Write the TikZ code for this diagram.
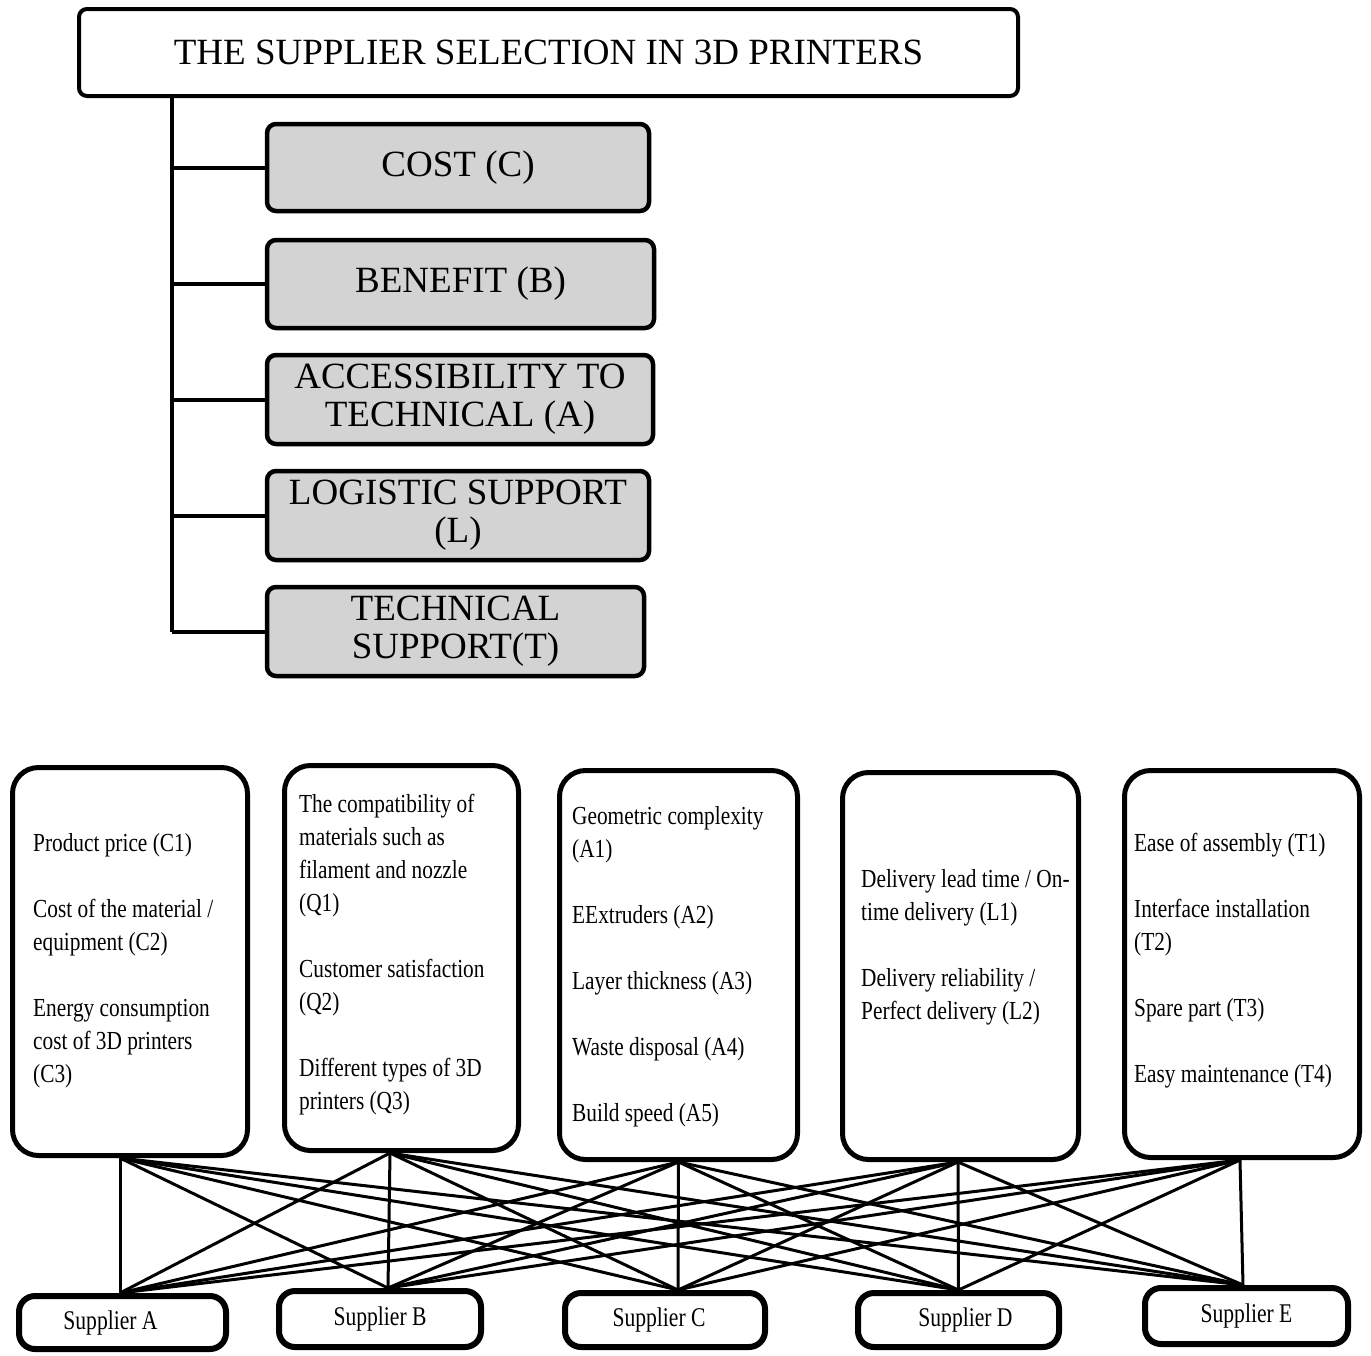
\documentclass[tikz,border=0pt]{standalone}
\usepackage{fontspec}
\setmainfont{Liberation Serif}
\newfontfamily\narrowA[FakeStretch=0.82]{Liberation Serif}
\newfontfamily\narrowB[FakeStretch=0.8]{Liberation Serif}
\definecolor{critgrey}{RGB}{211,211,211}
\pgfdeclarelayer{bg}
\pgfsetlayers{bg,main}
\begin{document}
\begin{tikzpicture}[x=1pt,y=-1pt,
  titlebox/.style={draw, fill=white, line width=4pt, rounded corners=8pt, minimum width=939pt, minimum height=87pt, inner sep=0pt, font=\fontsize{37}{38}\selectfont},
  critbox/.style={draw, fill=critgrey, line width=4.5pt, rounded corners=9pt, inner sep=0pt, align=center, font=\fontsize{37}{38}\selectfont},
  subbox/.style={draw, fill=white, line width=5pt, rounded corners=26pt, inner sep=0pt},
  subtext/.style={anchor=north west, inner sep=0pt, align=left, font=\narrowA\fontsize{26}{33}\selectfont},
  suppbox/.style={draw, fill=white, line width=6pt, rounded corners=16pt, inner sep=0pt, font=\narrowB\fontsize{27}{30}\selectfont},
  trunk/.style={line width=4pt},
  link/.style={line width=3pt}]
\useasboundingbox (0,0) rectangle (1371,1355);

% top hierarchy
\node[titlebox] (top) at (548.5,52.5) {THE SUPPLIER SELECTION IN 3D PRINTERS};
\node[critbox, minimum width=382pt, minimum height=87pt] (c1) at (458,167.5) {COST (C)};
\node[critbox, minimum width=387pt, minimum height=88pt] (c2) at (460.5,284) {BENEFIT (B)};
\node[critbox, minimum width=386pt, minimum height=89pt] (c3) at (460,399.5) {ACCESSIBILITY TO\\TECHNICAL (A)};
\node[critbox, minimum width=382pt, minimum height=89pt] (c4) at (458,515.5) {LOGISTIC SUPPORT\\(L)};
\node[critbox, minimum width=377pt, minimum height=89pt] (c5) at (455.5,631.5) {TECHNICAL\\SUPPORT(T)};

\coordinate (tk) at (172,100);
\begin{pgfonlayer}{bg}
\draw[trunk] (top.south -| tk) -- (c5.west -| tk);
\foreach \c in {c1,c2,c3,c4,c5} { \draw[trunk] (\c.west -| tk) -- (\c.west); }
\end{pgfonlayer}

% sub-criteria boxes
\node[subbox, minimum width=235pt, minimum height=388pt] (k1) at (130,961.5) {};
\node[subbox, minimum width=234pt, minimum height=385pt] (k2) at (401.5,958) {};
\node[subbox, minimum width=238pt, minimum height=389pt] (k3) at (678.5,965) {};
\node[subbox, minimum width=236pt, minimum height=387pt] (k4) at (960.5,966) {};
\node[subbox, minimum width=235pt, minimum height=387pt] (k5) at (1242,964) {};

\node[subtext] (t1) at (33,828) {\strut Product price (C1)\\[33pt]Cost of the material /\\equipment (C2)\\[33pt]Energy consumption\\cost of 3D printers\\(C3)};
\node[subtext] (t2) at (299,789) {\strut The compatibility of\\materials such as\\filament and nozzle\\(Q1)\\[33pt]Customer satisfaction\\(Q2)\\[33pt]Different types of 3D\\printers (Q3)};
\node[subtext] (t3) at (572,801) {\strut Geometric complexity\\(A1)\\[33pt]EExtruders (A2)\\[33pt]Layer thickness (A3)\\[33pt]Waste disposal (A4)\\[33pt]Build speed (A5)};
\node[subtext] (t4) at (861,864) {\strut Delivery lead time / On-\\time delivery (L1)\\[33pt]Delivery reliability /\\Perfect delivery (L2)};
\node[subtext] (t5) at (1134,828) {\strut Ease of assembly (T1)\\[33pt]Interface installation\\(T2)\\[33pt]Spare part (T3)\\[33pt]Easy maintenance (T4)};

% suppliers
\node[suppbox, minimum width=207pt, minimum height=53pt] (s1) at (122.5,1322.5) {\hspace*{-24pt}\raisebox{-6pt}{Supplier A}};
\node[suppbox, minimum width=202pt, minimum height=56pt] (s2) at (380,1319) {Supplier B};
\node[suppbox, minimum width=200pt, minimum height=54pt] (s3) at (665,1320) {\hspace*{-12pt}Supplier C};
\node[suppbox, minimum width=201pt, minimum height=54pt] (s4) at (958.5,1320) {\hspace*{14pt}Supplier D};
\node[suppbox, minimum width=203pt, minimum height=56pt] (s5) at (1246.5,1316) {Supplier E};

% connectors
\begin{pgfonlayer}{bg}
\foreach \i/\dx in {1/-10,2/-11.5,3/0,4/-2.5,5/-2} {
  \foreach \j/\dy in {1/-2.5,2/8,3/13,4/0,5/-3.5} {
    \draw[link] ([xshift=\dx pt]k\i.south) -- ([xshift=\dy pt]s\j.north);
  }
}
\end{pgfonlayer}
\end{tikzpicture}
\end{document}
